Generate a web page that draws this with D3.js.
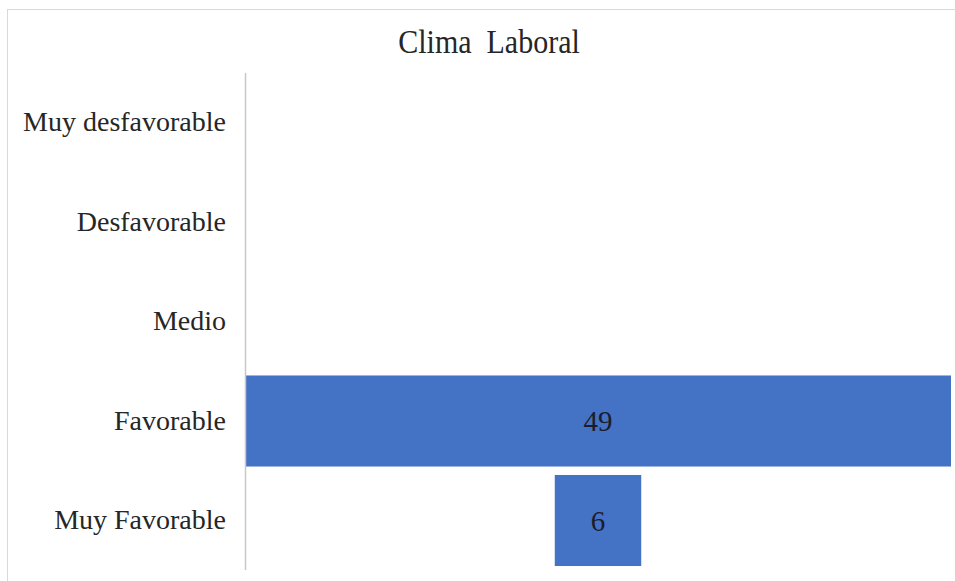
<!DOCTYPE html>
<html>
<head>
<meta charset="utf-8">
<script src="https://cdn.jsdelivr.net/npm/d3@7"></script>
<style>
  html, body { margin: 0; padding: 0; background: #fff; }
  svg { display: block; }
</style>
</head>
<body>
<svg id="chart" width="955" height="581"></svg>
<script>
// Funnel-style chart: each bar is centred in the plot area
const categories = ["Muy desfavorable", "Desfavorable", "Medio", "Favorable", "Muy Favorable"];
const values = [0, 0, 0, 49, 6];
const title = "Clima  Laboral";

const svg = d3.select("#chart");
const plot = { left: 245, right: 951, top: 73, bottom: 570 };
const fontFamily = "'Liberation Serif', 'Times New Roman', serif";

// chart frame
svg.append("rect")
  .attr("x", 7.5).attr("y", 9.5)
  .attr("width", 980).attr("height", 600)
  .attr("fill", "#fff")
  .attr("stroke", "#d9d9d9")
  .attr("stroke-width", 1);

// title (keeps its double space)
svg.append("text")
  .attr("transform", "translate(489,53) scale(1,1.12)")
  .attr("text-anchor", "middle")
  .attr("font-family", fontFamily)
  .attr("font-size", 30)
  .attr("fill", "#262626")
  .style("white-space", "pre")
  .text(title);

const y = d3.scaleBand()
  .domain(categories)
  .range([plot.top, plot.bottom])
  .paddingInner(0.085)
  .paddingOuter(0.04);

const w = d3.scaleLinear()
  .domain([0, d3.max(values)])
  .range([0, plot.right - plot.left]);

const cx = (plot.left + plot.right) / 2;
const data = categories.map((c, i) => ({ c, v: values[i] }));

// bars
svg.append("g")
  .selectAll("rect")
  .data(data.filter(d => d.v > 0))
  .join("rect")
  .attr("x", d => cx - w(d.v) / 2)
  .attr("y", d => y(d.c))
  .attr("width", d => w(d.v))
  .attr("height", y.bandwidth())
  .attr("fill", "#4472c4");

// value labels
svg.append("g")
  .selectAll("text")
  .data(data.filter(d => d.v > 0))
  .join("text")
  .attr("x", cx)
  .attr("y", d => y(d.c) + y.bandwidth() / 2)
  .attr("dy", "0.35em")
  .attr("text-anchor", "middle")
  .attr("font-family", fontFamily)
  .attr("font-size", 29)
  .attr("fill", "#1c1c2a")
  .text(d => d.v);

// category axis
const axis = svg.append("g")
  .attr("transform", `translate(${plot.left},0)`)
  .call(d3.axisLeft(y).tickSize(0).tickPadding(19));
axis.select(".domain")
  .attr("stroke", "#c8c8c8")
  .attr("stroke-width", 1.5)
  .attr("d", `M0.5,${plot.top}V${plot.bottom}`);
axis.selectAll(".tick text")
  .attr("font-family", fontFamily)
  .attr("font-size", 28)
  .attr("fill", "#262626");
</script>
</body>
</html>
